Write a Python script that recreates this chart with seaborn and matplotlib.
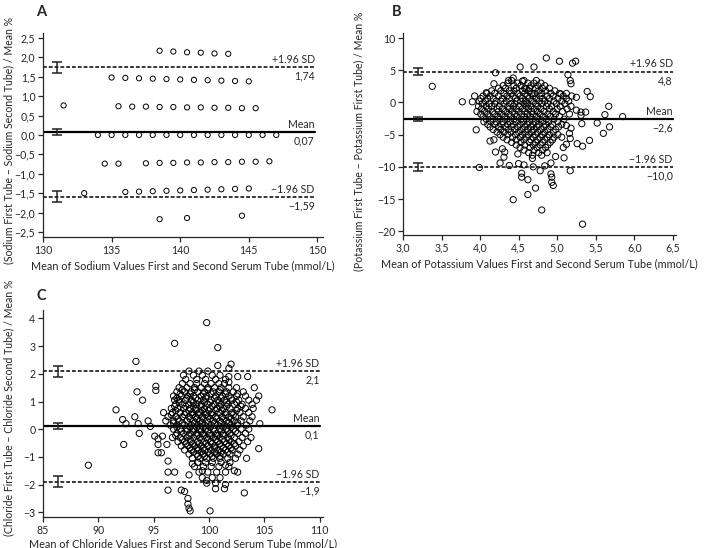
import numpy as np
import pandas as pd
import matplotlib
matplotlib.use("Agg")
import matplotlib.pyplot as plt
import seaborn as sns
from matplotlib.ticker import FuncFormatter, FixedLocator

# ---------------- Panel A: sodium ----------------
na_mean = [138.5, 139.5, 140.5, 141.5, 142.5, 143.5,
           135, 136, 137, 138, 139, 140, 141, 142, 143, 144, 145,
           131.5, 135.5, 136.5, 137.5, 138.5, 139.5, 140.5, 141.5, 142.5, 143.5, 144.5, 145.5,
           134, 135, 136, 137, 138, 139, 140, 141, 142, 143, 144, 145, 146, 147,
           134.5, 135.5, 137.5, 138.5, 139.5, 140.5, 141.5, 142.5, 143.5, 144.5, 145.5, 146.5,
           133, 136, 137, 138, 139, 140, 141, 142, 143, 144, 145,
           138.5, 140.5, 144.5]
na_diff = [2.17, 2.15, 2.13, 2.12, 2.10, 2.09,
           1.48, 1.47, 1.46, 1.45, 1.44, 1.43, 1.42, 1.41, 1.40, 1.39, 1.38,
           0.76, 0.74, 0.73, 0.73, 0.72, 0.72, 0.71, 0.71, 0.70, 0.70, 0.69, 0.69,
           0, 0, 0, 0, 0, 0, 0, 0, 0, 0, 0, 0, 0, 0,
           -0.74, -0.74, -0.73, -0.72, -0.72, -0.71, -0.71, -0.70, -0.70, -0.69, -0.69, -0.68,
           -1.50, -1.47, -1.46, -1.45, -1.44, -1.43, -1.42, -1.41, -1.40, -1.39, -1.38,
           -2.17, -2.14, -2.08]
na_lines = [1.74, 0.07, -1.59]
na_ci = [0.15, 0.075, 0.15]
na_labels = ["1,74", "0,07", "\u22121,59"]

# ---------------- Panel B: potassium ----------------
# dense core, read row by row (difference level -> means)
k_core_diff = [3.4, 3.0, 2.6, 2.2, 1.8, 1.4, 1.0, 0.6, 0.2, -0.2, -0.6, -1.0, -1.4, -1.8,
               -2.2, -2.6, -3.0, -3.4, -3.8, -4.2, -4.6, -5.0, -5.4, -5.8, -6.2, -6.6,
               -7.0, -7.4, -7.8, -8.2]
k_core_mean = [
    [4.41, 4.57, 4.73],
    [4.36, 4.49, 4.62, 4.70, 4.79],
    [4.30, 4.44, 4.53, 4.66, 4.75, 4.84],
    [4.24, 4.33, 4.47, 4.58, 4.64, 4.72, 4.81, 4.90],
    [4.15, 4.27, 4.38, 4.44, 4.55, 4.63, 4.76, 4.85, 4.97],
    [4.09, 4.19, 4.31, 4.40, 4.49, 4.58, 4.67, 4.71, 4.80, 4.92, 5.03],
    [4.04, 4.13, 4.24, 4.35, 4.43, 4.52, 4.61, 4.69, 4.78, 4.87, 4.95, 5.08, 5.19],
    [4.01, 4.10, 4.17, 4.29, 4.38, 4.46, 4.55, 4.64, 4.73, 4.81, 4.90, 5.01, 5.12],
    [3.99, 4.07, 4.21, 4.27, 4.34, 4.48, 4.53, 4.59, 4.68, 4.77, 4.84, 4.96, 5.06, 5.15],
    [4.03, 4.12, 4.19, 4.31, 4.40, 4.45, 4.57, 4.62, 4.72, 4.80, 4.88, 4.99, 5.10],
    [3.98, 4.08, 4.15, 4.25, 4.36, 4.43, 4.51, 4.60, 4.66, 4.75, 4.86, 4.93, 5.04, 5.18],
    [4.02, 4.11, 4.22, 4.29, 4.38, 4.47, 4.55, 4.63, 4.70, 4.79, 4.90, 5.00, 5.13],
    [3.96, 4.06, 4.16, 4.24, 4.33, 4.42, 4.50, 4.58, 4.67, 4.74, 4.83, 4.95, 5.07],
    [4.01, 4.10, 4.19, 4.28, 4.37, 4.45, 4.54, 4.61, 4.69, 4.78, 4.88, 4.98, 5.16],
    [4.04, 4.13, 4.23, 4.32, 4.40, 4.48, 4.57, 4.65, 4.73, 4.82, 4.91, 5.03],
    [4.08, 4.17, 4.26, 4.35, 4.44, 4.53, 4.60, 4.68, 4.77, 4.86, 4.96, 5.09],
    [4.05, 4.14, 4.21, 4.30, 4.39, 4.47, 4.56, 4.64, 4.72, 4.81, 4.89, 5.01],
    [4.10, 4.19, 4.28, 4.36, 4.43, 4.52, 4.61, 4.69, 4.76, 4.85, 4.94, 5.06],
    [4.13, 4.24, 4.33, 4.41, 4.49, 4.58, 4.66, 4.74, 4.83, 4.92, 5.02],
    [4.17, 4.27, 4.37, 4.45, 4.54, 4.62, 4.70, 4.79, 4.88, 4.98],
    [4.22, 4.31, 4.40, 4.50, 4.59, 4.67, 4.75, 4.84, 4.95],
    [4.26, 4.36, 4.46, 4.55, 4.63, 4.72, 4.81, 4.90, 5.01],
    [4.30, 4.42, 4.52, 4.60, 4.69, 4.78, 4.87, 4.96],
    [4.35, 4.47, 4.57, 4.66, 4.75, 4.84, 4.94],
    [4.41, 4.53, 4.64, 4.72, 4.81, 4.91],
    [4.47, 4.58, 4.69, 4.78, 4.88],
    [4.52, 4.65, 4.74, 4.85],
    [4.57, 4.70, 4.81],
    [4.63, 4.76, 4.87],
    [4.68, 4.80],
]
# scattered points outside the core
k_out_mean = [3.38, 3.77, 3.90, 3.93, 3.95, 3.99, 4.08, 4.13, 4.18, 4.20, 4.18, 4.20,
              4.26, 4.29, 4.31, 4.32, 4.37, 4.43, 4.38, 4.49, 4.50, 4.52, 4.54, 4.54,
              4.57, 4.62, 4.62, 4.43, 4.55, 4.60, 4.70, 4.72, 4.69, 4.68, 4.78, 4.80,
              4.86, 4.84, 4.92, 4.92, 4.93, 4.93, 4.95, 4.98, 5.03, 5.05, 5.12, 5.14,
              5.17, 5.18, 5.20, 5.24, 5.17, 5.25, 5.25, 5.33, 5.33, 5.26, 5.31, 5.31,
              5.32, 5.37, 5.39, 5.43, 5.42, 5.52, 5.60, 5.62, 5.67, 5.68, 5.85,
              5.18, 5.16, 5.17, 5.12, 5.08, 5.09, 5.06, 5.12]
k_out_diff = [2.5, 0.1, 0.1, 1.0, -4.25, -10.1, 1.5, -6.0, -5.8, -7.7, 2.9, 4.6,
              -9.4, -7.2, -8.5, -7.7, 3.4, 3.8, -9.8, -8.0, -9.5, 5.5, -11.0, -11.6,
              -9.7, -12.0, -14.3, -15.1, 3.3, 2.1, 5.5, -13.3, -10.0, -8.7, -10.6, -16.7,
              6.9, -9.85, -9.4, -11.1, -11.6, -12.4, -12.9, -8.4, 6.4, 1.3, 1.4, 4.3,
              3.4, 2.9, 6.1, 6.4, -10.6, 0.8, -1.2, -18.9, -6.8, -6.4, -1.5, -2.0,
              -3.3, -1.5, 1.7, 0.9, -5.9, -3.2, -4.8, -1.9, -0.6, -3.8, -2.2,
              -4.0, -4.8, -5.6, -3.6, -7.0, -8.6, -5.4, -6.5]
k_lines = [4.8, -2.6, -10.0]
k_ci = [0.6, 0.36, 0.57]
k_labels = ["4,8", "\u22122,6", "\u221210,0"]

# ---------------- Panel C: chloride ----------------
cl_core_diff = [2.1, 1.95, 1.8, 1.65, 1.5, 1.425, 1.35, 1.275, 1.2, 1.125, 1.05, 0.975, 0.9,
                0.825, 0.75, 0.675, 0.6, 0.525, 0.45, 0.375, 0.3, 0.225, 0.15, 0.075, 0.0,
                -0.075, -0.15, -0.225, -0.3, -0.375, -0.45, -0.525, -0.6, -0.675, -0.75,
                -0.825, -0.9, -0.975, -1.05, -1.2, -1.35, -1.55, -1.75, -1.95]
cl_core_mean = [
    [98.2, 99.1, 99.9],
    [97.7, 98.6, 99.4, 100.3, 101.0],
    [97.9, 98.9, 99.7, 100.6, 101.5],
    [97.6, 98.3, 98.9, 99.6, 100.2, 100.9, 101.4],
    [97.3, 98.0, 98.7, 99.3, 99.9, 100.5, 101.1, 101.8, 102.5],
    [97.6, 98.7, 99.9, 101.0],
    [97.1, 97.8, 98.4, 99.0, 99.6, 100.4, 100.9, 101.6, 102.2, 103.1],
    [97.4, 98.3, 99.5, 100.2, 101.5, 102.6],
    [96.8, 97.5, 98.1, 98.6, 99.3, 99.8, 100.6, 101.2, 101.8, 102.5, 103.3],
    [97.1, 98.0, 98.8, 99.7, 100.5, 101.1, 102.0],
    [96.9, 97.3, 97.9, 98.4, 99.0, 99.5, 100.2, 100.8, 101.4, 102.1, 102.7, 103.6, 104.3],
    [97.3, 98.6, 99.6, 100.1, 100.9, 101.6, 102.5],
    [97.0, 97.6, 98.2, 98.9, 99.3, 99.9, 100.5, 101.1, 101.7, 102.3, 103.0, 103.9],
    [96.9, 97.9, 98.6, 99.3, 100.3, 101.0, 101.6, 102.9],
    [96.6, 97.2, 97.7, 98.3, 98.8, 99.6, 100.1, 100.7, 101.3, 101.9, 102.6, 103.3, 104.0],
    [97.0, 98.2, 98.8, 99.4, 100.0, 100.6, 101.2, 102.5],
    [95.9, 96.7, 97.4, 97.9, 98.5, 99.1, 99.7, 100.3, 100.9, 101.5, 102.1, 102.8, 103.6],
    [96.6, 97.8, 98.5, 99.1, 99.7, 100.3, 101.5, 102.2],
    [96.3, 97.0, 97.6, 98.2, 98.8, 99.4, 99.9, 100.6, 101.2, 101.8, 102.4, 103.1, 103.9],
    [97.2, 98.3, 98.9, 99.5, 100.1, 100.7, 101.3, 102.0],
    [96.1, 96.8, 97.3, 98.0, 98.6, 99.2, 99.8, 100.4, 101.0, 101.6, 102.3, 102.9, 103.7],
    [96.8, 97.6, 98.7, 99.4, 100.5, 101.1, 101.8, 102.6],
    [96.5, 97.1, 97.8, 98.4, 99.0, 99.6, 100.2, 100.8, 101.4, 102.0, 102.6, 103.4],
    [97.1, 98.3, 98.9, 99.5, 100.1, 101.3, 102.0],
    [96.8, 97.4, 98.0, 98.6, 99.2, 99.7, 100.4, 101.0, 101.6, 102.2, 102.9, 103.6],
    [97.5, 98.0, 98.6, 99.3, 99.9, 100.5, 101.1, 101.7, 102.4],
    [97.1, 97.7, 98.3, 98.9, 99.5, 100.1, 100.7, 101.3, 101.9, 102.6, 103.3],
    [97.0, 98.2, 98.9, 99.5, 100.1, 100.7, 101.3, 102.0],
    [96.7, 97.4, 98.0, 98.6, 99.2, 99.8, 100.4, 101.0, 101.7, 102.3, 103.0, 103.8],
    [97.6, 98.3, 99.3, 99.9, 100.6, 101.2, 101.8],
    [97.2, 97.8, 98.4, 99.0, 99.6, 100.2, 100.8, 101.4, 102.0, 102.7, 103.5],
    [97.9, 98.5, 99.1, 99.7, 100.3, 101.0, 101.6, 102.3],
    [97.5, 98.1, 98.7, 99.3, 99.9, 100.5, 101.1, 101.8, 102.4, 103.1],
    [98.3, 99.0, 99.5, 100.5, 101.3, 102.0],
    [97.8, 98.4, 99.0, 99.6, 100.2, 100.8, 101.5, 102.1, 102.8],
    [98.6, 99.3, 99.9, 100.5, 101.1, 101.7],
    [98.2, 98.9, 99.5, 100.1, 100.7, 101.3, 101.9, 102.6],
    [99.0, 99.6, 100.3, 101.0],
    [98.5, 99.2, 99.8, 100.4, 101.0, 101.7, 102.4],
    [99.0, 99.7, 100.3, 101.1, 101.9],
    [98.7, 99.5, 100.2, 100.9, 101.8],
    [99.1, 99.9, 100.7, 101.5],
    [99.4, 100.3, 101.0],
    [99.8, 100.6],
]
cl_out_mean = [89.1, 91.6, 92.2, 92.3, 92.5, 93.4, 93.3, 93.5, 93.6, 93.7, 94.0, 94.5,
               94.7, 95.2, 95.2, 95.1, 95.4, 95.4, 95.4, 95.7, 95.8, 96.2, 96.3, 96.3,
               96.3, 97.5, 96.9, 96.9, 97.8, 98.1, 98.1, 98.2, 98.3, 98.2, 99.8, 100.1,
               100.8, 100.8, 102.0, 101.8, 101.8, 101.8, 102.6, 103.2, 103.4, 103.5, 104.1,
               104.5, 104.5, 104.6, 105.7, 102.3, 102.6, 101.5, 101.5, 101.4, 100.6, 99.8,
               99.4, 99.0, 98.5]
cl_out_diff = [-1.3, 0.7, 0.35, -0.55, 0.2, 2.45, 0.45, 1.35, 0.2, -0.15, 1.05, 0.3,
               0.1, 1.55, 1.4, -0.25, -0.35, -0.55, -0.85, -0.85, -0.25, -0.55, -1.15, -1.55,
               -2.2, -2.2, 3.1, -1.55, -2.25, -2.7, -2.5, -2.85, -2.95, -1.65, 3.85, -2.95,
               2.95, 2.3, 2.35, 2.2, 1.9, 1.7, 1.9, -2.3, -1.05, 1.9, 1.5,
               -0.7, 1.2, 0.2, 0.7, -1.5, -1.55, -1.3, -2.0, -2.15, -2.15, -1.85,
               -1.5, -1.2, -1.25]
cl_lines = [2.1, 0.1, -1.9]
cl_ci = [0.2, 0.11, 0.2]
cl_labels = ["2,1", "0,1", "\u22121,9"]


def expand(core_diff, core_mean, out_mean, out_diff):
    xs, ys = [], []
    for d, row in zip(core_diff, core_mean):
        xs += row
        ys += [d] * len(row)
    xs += out_mean
    ys += out_diff
    return pd.DataFrame({"mean": xs, "diff": ys})


def comma(decimals):
    def f(v, pos):
        s = f"{abs(v):.{decimals}f}".replace(".", ",")
        return ("\u2212" + s) if v < -1e-9 else s
    return FuncFormatter(f)


def draw_panel(ax, df, lines, ci, ci_x, labels, line_end, xlim, ylim, xticks, yticks,
               xdec, ydec, xlabel, size, xpad=3):
    # limits of agreement and mean
    ax.plot([xlim[0], line_end], [lines[0]] * 2, color="black", lw=1.1, ls=(0, (2.5, 1.3)), zorder=1)
    ax.plot([xlim[0], line_end], [lines[1]] * 2, color="black", lw=1.6, zorder=1)
    ax.plot([xlim[0], line_end], [lines[2]] * 2, color="black", lw=1.1, ls=(0, (2.5, 1.3)), zorder=1)
    ax.errorbar([ci_x] * 3, lines, yerr=ci, fmt="none", ecolor="#222222", elinewidth=1.1,
                capsize=3.8, capthick=1.1, zorder=2)

    sns.scatterplot(data=df, x="mean", y="diff", ax=ax, s=size, facecolor="none",
                    edgecolor="black", linewidth=0.7, zorder=3, legend=False)

    names = ["+1.96 SD", "Mean", "\u22121.96 SD"]
    for val, name, lab in zip(lines, names, labels):
        ax.annotate(name, (line_end, val), xytext=(0, 1.5), textcoords="offset points",
                    ha="right", va="bottom", fontsize=7.6)
        ax.annotate(lab, (line_end, val), xytext=(0, -2.5), textcoords="offset points",
                    ha="right", va="top", fontsize=7.6)

    ax.set_xlim(*xlim)
    ax.set_ylim(*ylim)
    ax.xaxis.set_major_locator(FixedLocator(xticks))
    ax.yaxis.set_major_locator(FixedLocator(yticks))
    ax.xaxis.set_major_formatter(comma(xdec))
    ax.yaxis.set_major_formatter(comma(ydec))
    ax.tick_params(direction="out", length=3.5, width=0.9, labelsize=7.6, pad=2)
    ax.set_xlabel(xlabel, fontsize=7.8, labelpad=xpad)
    ax.set_ylabel("")
    for sp in ["left", "bottom"]:
        ax.spines[sp].set_linewidth(0.9)
    sns.despine(ax=ax)


sns.set_style("ticks")
plt.rcParams["font.family"] = ["Lato", "DejaVu Sans"]

fig = plt.figure(figsize=(7.05, 5.48), dpi=100)
axA = fig.add_axes([0.061, 0.5675, 0.397, 0.3725])
axB = fig.add_axes([0.5716, 0.571, 0.387, 0.369])
axC = fig.add_axes([0.061, 0.0566, 0.397, 0.3774])

dfA = pd.DataFrame({"mean": na_mean, "diff": na_diff})
dfB = expand(k_core_diff, k_core_mean, k_out_mean, k_out_diff)
dfC = expand(cl_core_diff, cl_core_mean, cl_out_mean, cl_out_diff)

draw_panel(axA, dfA, na_lines, na_ci, 131, na_labels, 149.8, (130, 150.4), (-2.63, 2.63),
           [130, 135, 140, 145, 150], np.arange(-2.5, 2.51, 0.5), 0, 1,
           "Mean of Sodium Values First and Second Serum Tube (mmol/L)", 14)
draw_panel(axB, dfB, k_lines, k_ci, 3.19, k_labels, 6.5, (3.0, 6.54), (-20.6, 10.8),
           np.arange(3.0, 6.51, 0.5), [10, 5, 0, -5, -10, -15, -20], 1, 0,
           "Mean of Potassium Values First and Second Serum Tube (mmol/L)", 20)
draw_panel(axC, dfC, cl_lines, cl_ci, 86.36, cl_labels, 110, (85, 110.3), (-3.17, 4.3),
           [85, 90, 95, 100, 105, 110], [4, 3, 2, 1, 0, -1, -2, -3], 0, 0,
           "Mean of Chloride Values First and Second Serum Tube (mmol/L)", 20, xpad=2)

# rotated y labels, placed like the original figure
ylab_kw = dict(rotation=90, ha="center", va="center", fontsize=7.6)
fig.text(9 / 705, 1 - 140 / 548, "(Sodium First Tube \u2013 Sodium Second Tube) / Mean %", **ylab_kw)
fig.text(359 / 705, 1 - 141 / 548, "(Potassium First Tube \u2013 Potassium First Tube) / Mean %", **ylab_kw)
fig.text(9 / 705, 1 - 408 / 548, "(Chloride First Tube \u2013 Chloride Second Tube) / Mean %", **ylab_kw)

fig.text(0.058, 0.99, "A", fontsize=10.5, fontweight="bold", ha="center", va="top")
fig.text(0.563, 0.99, "B", fontsize=10.5, fontweight="bold", ha="center", va="top")
fig.text(0.058, 0.472, "C", fontsize=10.5, fontweight="bold", ha="center", va="top")

fig.savefig("out.png", dpi=100)
